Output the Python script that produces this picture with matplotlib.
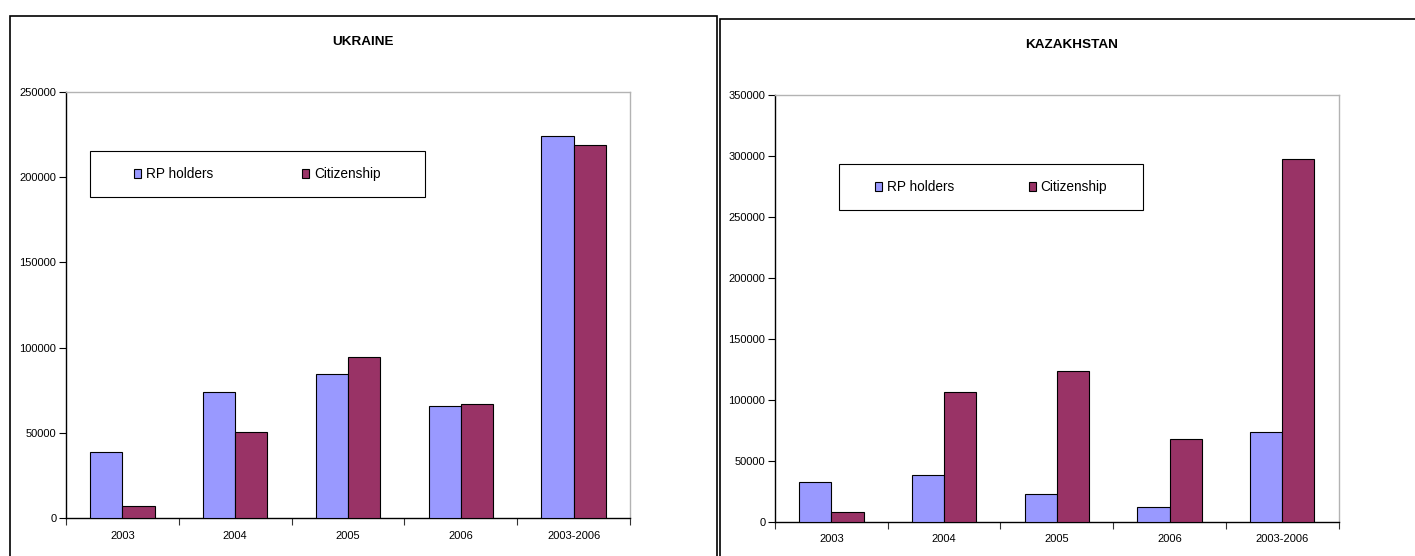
import matplotlib
matplotlib.use("Agg")
import matplotlib.pyplot as plt
from matplotlib.patches import Rectangle, Patch
from matplotlib.ticker import FixedLocator, NullFormatter
import numpy as np

# ---- data -------------------------------------------------------------
categories = ["2003", "2004", "2005", "2006", "2003-2006"]
series_names = ["RP holders", "Citizenship"]

ukraine_rp = [38600, 74300, 84300, 65700, 223900]
ukraine_cit = [7450, 50600, 94300, 66700, 218800]

kazakhstan_rp = [32900, 38400, 22500, 12300, 73400]
kazakhstan_cit = [8200, 106300, 123800, 67900, 297500]

ukraine_yticks = [0, 50000, 100000, 150000, 200000, 250000]
kazakhstan_yticks = [0, 50000, 100000, 150000, 200000, 250000, 300000, 350000]

# ---- styling ------------------------------------------------------------
plt.rcParams["font.family"] = ["Liberation Sans", "DejaVu Sans"]
COL_RP = "#9999FF"
COL_CIT = "#993366"
W, H = 1415, 556
TICK_FS = 8
LEGEND_FS = 9.8
TITLE_FS = 9.7

fig = plt.figure(figsize=(W / 100, H / 100), dpi=100)
fig.patch.set_facecolor("white")


def fx(px):
    return px / W


def fy(py):
    return 1 - py / H


def panel(frame, axes_px, title, title_xy, rp, cit, yticks, legend_box, colspace):
    # outer chart frame
    x0, y0, x1, y1 = frame
    fig.add_artist(Rectangle((fx(x0), fy(y1)), fx(x1) - fx(x0), fy(y0) - fy(y1),
                             transform=fig.transFigure, fill=False,
                             edgecolor="black", linewidth=1.2, clip_on=False))
    fig.text(fx(title_xy[0]), fy(title_xy[1]), title, ha="center", va="center",
             fontsize=TITLE_FS, fontweight="bold")

    l, t, r, b = axes_px
    ax = fig.add_axes([fx(l), fy(b), fx(r) - fx(l), (b - t) / H])
    x = np.arange(len(categories))
    bw = 1 / 3.5
    ax.bar(x - bw / 2, rp, width=bw, color=COL_RP, edgecolor="black", linewidth=0.8, zorder=3)
    ax.bar(x + bw / 2, cit, width=bw, color=COL_CIT, edgecolor="black", linewidth=0.8, zorder=3)

    ax.set_xlim(-0.5, len(categories) - 0.5)
    ax.set_ylim(yticks[0], yticks[-1])

    # category boundaries carry the tick marks, centres carry the labels
    ax.xaxis.set_major_locator(FixedLocator(np.arange(-0.5, len(categories), 1.0)))
    ax.xaxis.set_major_formatter(NullFormatter())
    ax.xaxis.set_minor_locator(FixedLocator(x))
    ax.set_xticklabels(categories, minor=True)
    ax.tick_params(axis="x", which="major", direction="out", length=5, width=0.8, color="#333333")
    ax.tick_params(axis="x", which="minor", length=0, pad=9, labelsize=TICK_FS)

    ax.set_yticks(yticks)
    ax.set_yticklabels([str(v) for v in yticks])
    ax.tick_params(axis="y", direction="out", length=5, width=0.8, pad=2, labelsize=TICK_FS)

    for s in ("top", "right"):
        ax.spines[s].set_color("#b3b3b3")
        ax.spines[s].set_linewidth(1.0)
    for s in ("left", "bottom"):
        ax.spines[s].set_color("black")
        ax.spines[s].set_linewidth(1.0)

    # legend box
    lx0, ly0, lx1, ly1 = legend_box
    fig.add_artist(Rectangle((fx(lx0), fy(ly1)), fx(lx1) - fx(lx0), fy(ly0) - fy(ly1),
                             transform=fig.transFigure, fill=True, facecolor="white",
                             edgecolor="black", linewidth=0.8, zorder=5))
    handles = [Patch(facecolor=COL_RP, edgecolor="black", linewidth=0.8),
               Patch(facecolor=COL_CIT, edgecolor="black", linewidth=0.8)]
    leg = fig.legend(handles, series_names, loc="center",
                     bbox_to_anchor=(fx((lx0 + lx1) / 2), fy((ly0 + ly1) / 2)),
                     bbox_transform=fig.transFigure, ncol=2, frameon=False,
                     fontsize=LEGEND_FS, handlelength=0.5, handleheight=0.6,
                     handletextpad=0.37, columnspacing=colspace, borderpad=0)
    leg.set_zorder(6)
    return ax


panel((10, 15.5, 716.5, 600), (66, 91.7, 630, 518.3), "UKRAINE", (363, 42),
      ukraine_rp, ukraine_cit, ukraine_yticks, (90, 151, 425, 197), 6.5)
panel((719.5, 19, 1430, 600), (775, 95, 1338.6, 521.7), "KAZAKHSTAN", (1072, 45),
      kazakhstan_rp, kazakhstan_cit, kazakhstan_yticks, (839, 164, 1143, 210), 5.5)

fig.savefig("out.png", dpi=100)
